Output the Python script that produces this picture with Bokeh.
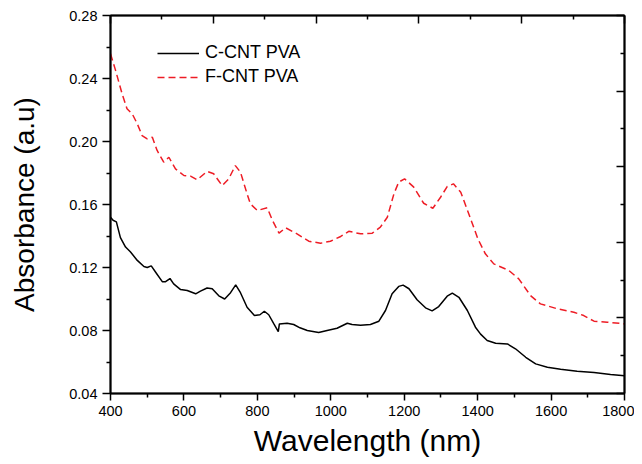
from bokeh.plotting import figure
from bokeh.models import (Range1d, LinearAxis, FixedTicker, PrintfTickFormatter,
                          Legend, LegendItem)
from bokeh.embed import file_html
from bokeh.resources import INLINE

# ---- data ----
c_wl = [400, 407, 416, 427, 441, 454, 473, 491, 500, 511, 523, 541, 550, 562, 572, 591,
        609, 632, 645, 663, 677, 695, 711, 727, 741, 754, 772, 792, 807, 819, 831, 845,
        857, 860, 881, 899, 916, 936, 967, 990, 1017, 1045, 1058, 1081, 1108, 1131, 1149,
        1167, 1185, 1197, 1213, 1235, 1258, 1276, 1294, 1317, 1331, 1349, 1372, 1394,
        1408, 1426, 1449, 1481, 1503, 1531, 1558, 1590, 1626, 1671, 1717, 1762, 1800]
c_abs = [0.152, 0.150, 0.149, 0.139, 0.133, 0.130, 0.1245, 0.1206, 0.120, 0.121, 0.117,
         0.111, 0.111, 0.113, 0.1096, 0.106, 0.1054, 0.1033, 0.105, 0.107, 0.1065, 0.102,
         0.100, 0.104, 0.109, 0.104, 0.0948, 0.0895, 0.090, 0.0922, 0.090, 0.0842, 0.0793,
         0.0842, 0.0846, 0.0838, 0.0817, 0.080, 0.0787, 0.080, 0.0814, 0.0846, 0.0838,
         0.0834, 0.0838, 0.0859, 0.0927, 0.1033, 0.108, 0.1088, 0.1065, 0.0995, 0.0944,
         0.0925, 0.0952, 0.1018, 0.1037, 0.1011, 0.0927, 0.0821, 0.0777, 0.0736, 0.0719,
         0.0715, 0.0684, 0.0630, 0.0588, 0.0567, 0.0554, 0.0541, 0.0533, 0.052, 0.0512]

f_wl = [400, 414, 432, 445, 459, 473, 486, 500, 514, 527, 545, 559, 577, 600, 618, 636,
        663, 681, 704, 722, 740, 754, 772, 781, 800, 827, 841, 859, 877, 908, 940, 972,
        999, 1027, 1049, 1081, 1113, 1135, 1154, 1172, 1185, 1201, 1226, 1253, 1278, 1299,
        1317, 1334, 1354, 1376, 1401, 1421, 1444, 1485, 1512, 1544, 1571, 1617, 1662,
        1689, 1717, 1753, 1800]
f_abs = [0.2557, 0.245, 0.230, 0.2208, 0.2176, 0.2112, 0.2038, 0.2017, 0.2027, 0.1943,
         0.1869, 0.190, 0.1826, 0.1784, 0.178, 0.1757, 0.181, 0.1795, 0.172, 0.1763,
         0.1847, 0.1805, 0.1668, 0.1604, 0.1562, 0.1579, 0.150, 0.1418, 0.1452, 0.1414,
         0.1367, 0.1354, 0.1367, 0.1397, 0.143, 0.1414, 0.1418, 0.1456, 0.1519, 0.1668,
         0.1742, 0.1763, 0.171, 0.1608, 0.1576, 0.1646, 0.1714, 0.1731, 0.1678, 0.154,
         0.138, 0.1287, 0.1223, 0.1181, 0.1128, 0.1022, 0.0969, 0.0938, 0.0916, 0.0895,
         0.0859, 0.0853, 0.0842]

x_ticks = [400, 600, 800, 1000, 1200, 1400, 1600, 1800]
x_minor = [500, 700, 900, 1100, 1300, 1500, 1700]
y_ticks = [0.04, 0.08, 0.12, 0.16, 0.20, 0.24, 0.28]
y_minor = [0.06, 0.10, 0.14, 0.18, 0.22, 0.26]
aux_ticks = [0.0, 0.2, 0.4, 0.6, 0.8, 1.0]
aux_minor = [0.1, 0.3, 0.5, 0.7, 0.9]

labels = ["C-CNT PVA", "F-CNT PVA"]
FONT = "Liberation Sans"

p = figure(width=634, height=460, output_backend="svg", toolbar_location=None,
           x_range=Range1d(400, 1800), y_range=Range1d(0.04, 0.28),
           min_border_left=110, min_border_right=10, min_border_top=15,
           min_border_bottom=67)
p.xgrid.visible = False
p.ygrid.visible = False
p.outline_line_color = "black"
p.outline_line_width = 1.5
p.background_fill_color = "white"
p.border_fill_color = "white"

r1 = p.line(c_wl, c_abs, line_color="black", line_width=1.5)
r2 = p.line(f_wl, f_abs, line_color="#ee1c25", line_width=1.5, line_dash="7 4")

for ax in (p.xaxis[0], p.yaxis[0]):
    ax.axis_line_width = 2
    ax.axis_line_color = "black"
    ax.major_tick_line_width = 1.5
    ax.minor_tick_line_width = 1.5
    ax.major_tick_in = 0
    ax.minor_tick_in = 0
    ax.major_label_text_font = FONT
    ax.major_label_text_font_size = "14.5px"
    ax.major_label_text_color = "black"
    ax.axis_label_text_font = FONT
    ax.axis_label_text_font_style = "normal"
    ax.axis_label_text_color = "black"

p.xaxis[0].ticker = FixedTicker(ticks=x_ticks, minor_ticks=x_minor)
p.xaxis[0].major_tick_out = 7
p.xaxis[0].minor_tick_out = 4
p.xaxis[0].major_label_standoff = 5
p.xaxis[0].axis_label = "Wavelength (nm)"
p.xaxis[0].axis_label_text_font_size = "30px"
p.xaxis[0].axis_label_standoff = 5

p.yaxis[0].ticker = FixedTicker(ticks=y_ticks, minor_ticks=y_minor)
p.yaxis[0].formatter = PrintfTickFormatter(format="%.2f")
p.yaxis[0].major_tick_out = 8
p.yaxis[0].minor_tick_out = 4
p.yaxis[0].major_label_standoff = 5
p.yaxis[0].axis_label = "Absorbance (a.u)"
p.yaxis[0].axis_label_text_font_size = "28px"
p.yaxis[0].axis_label_standoff = 26

p.extra_x_ranges = {"top": Range1d(0, 1)}
p.extra_y_ranges = {"right": Range1d(0, 1)}
top = LinearAxis(x_range_name="top", ticker=FixedTicker(ticks=aux_ticks, minor_ticks=aux_minor))
right = LinearAxis(y_range_name="right", ticker=FixedTicker(ticks=aux_ticks, minor_ticks=aux_minor))
for ax in (top, right):
    ax.axis_line_width = 2
    ax.axis_line_color = "black"
    ax.major_tick_in = 8
    ax.major_tick_out = 0
    ax.minor_tick_in = 4
    ax.minor_tick_out = 0
    ax.major_tick_line_width = 1.5
    ax.minor_tick_line_width = 1.5
    ax.major_label_overrides = {t: "" for t in aux_ticks}
    ax.major_label_standoff = 0
p.add_layout(top, "above")
p.add_layout(right, "right")

legend = Legend(items=[LegendItem(label=labels[0], renderers=[r1]),
                       LegendItem(label=labels[1], renderers=[r2])],
                location=(47, 306))
legend.border_line_color = None
legend.background_fill_alpha = 0
legend.padding = 0
legend.margin = 0
legend.spacing = 3
legend.glyph_width = 42
legend.glyph_height = 20
legend.label_height = 20
legend.label_standoff = 6
legend.label_text_font = FONT
legend.label_text_font_size = "18px"
legend.label_text_color = "black"
p.add_layout(legend, "center")

open("out.html", "w").write(file_html(p, INLINE))
